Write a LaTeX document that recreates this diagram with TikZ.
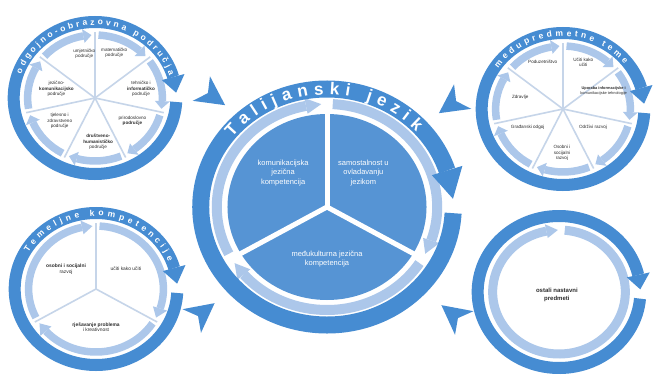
\documentclass[tikz,border=0pt]{standalone}
\usepackage{fontspec}
\setmainfont{Liberation Sans}
\usetikzlibrary{decorations.text}
\definecolor{ringblue}{RGB}{70,140,210}
\definecolor{pieblue}{RGB}{86,148,212}
\definecolor{lightblue}{RGB}{172,199,234}
\definecolor{spokeblue}{RGB}{198,213,233}
\definecolor{labelgray}{RGB}{45,45,45}
\begin{document}
\begin{tikzpicture}[x=1pt,y=1pt,
  lbl/.style={font=\fontsize{4.6}{5.3}\selectfont, text=labelgray, align=center, inner sep=0pt},
  clbl/.style={font=\fontsize{7.5}{9.5}\selectfont, text=white, align=center, inner sep=0pt},
  ringline/.style={draw=ringblue, line width=12pt},
  lring/.style={draw=lightblue, line width=7.5pt},
  spk/.style={draw=spokeblue, line width=1.6pt},
  ringtext/.style={decorate, decoration={text along path, text color=white, text align={fit to path}, text={|\fontsize{8.5}{8.5}\selectfont\bfseries|#1}}},
  chevron/.pic={\fill[ringblue] (16,0) -- (-13,15) -- (-5,0) -- (-13,-15) -- cycle;}]
\fill[white] (0,0) rectangle (653,376);
\useasboundingbox (0,0) rectangle (653,376);

% ---------- top-left: odgojno-obrazovna podrucja ----------
\begin{scope}[shift={(95,278)}, xscale=1.07]
  \coordinate (tl) at (0,0);
  \foreach \k in {0,...,6} \draw[spk] (0,0) -- ({90-\k*360/7}:66);
  \foreach \k in {0,...,6}{
    \pgfmathsetmacro\s{90-\k*360/7-3}
    \pgfmathsetmacro\e{90-(\k+1)*360/7+10}
    \pgfmathsetmacro\t{90-(\k+1)*360/7+3}
    \draw[lring] (\s:63) arc[start angle=\s, end angle=\e, radius=63];
    \fill[lightblue] (\e:70) -- (\e:56) -- (\t:63) -- cycle;
  }
  \draw[ringline] (-3:76) arc[start angle=-3, end angle=-344, radius=76];
  \fill[ringblue] (16:87) -- (16:65) -- (4:76) -- cycle;
  \path[ringtext={odgojno-obrazovna područja}] (161:73) arc[start angle=161, end angle=18, radius=73];
  \node[lbl] (tl1) at (-10,44) {umjetničko\\područje};
  \node[lbl] (tl2) at (18,45) {matematičko\\područje};
  \node[lbl] (tl3) at (43,9) {tehničko i\\\textbf{informatičko}\\područje};
  \node[lbl] (tl4) at (35,-23) {prirodoslovno\\\textbf{područje}};
  \node[lbl] (tl5) at (3,-44) {\textbf{društveno-}\\\textbf{humanističko}\\područje};
  \node[lbl] (tl6) at (-33,-23) {tjelesno i\\zdravstveno\\područje};
  \node[lbl] (tl7) at (-36,9) {jezično-\\\textbf{komunikacijsko}\\područje};
\end{scope}

% ---------- top-right: medupredmetne teme ----------
\begin{scope}[shift={(563,267)}, xscale=1.07]
  \coordinate (tr) at (0,0);
  \foreach \k in {0,...,6} \draw[spk] (0,0) -- ({90-\k*360/7}:66);
  \foreach \k in {0,...,6}{
    \pgfmathsetmacro\s{90-\k*360/7-3}
    \pgfmathsetmacro\e{90-(\k+1)*360/7+10}
    \pgfmathsetmacro\t{90-(\k+1)*360/7+3}
    \draw[lring] (\s:63) arc[start angle=\s, end angle=\e, radius=63];
    \fill[lightblue] (\e:70) -- (\e:56) -- (\t:63) -- cycle;
  }
  \draw[ringline] (-3:76) arc[start angle=-3, end angle=-344, radius=76];
  \fill[ringblue] (16:87) -- (16:65) -- (4:76) -- cycle;
  \path[ringtext={međupredmetne teme}] (146:73) arc[start angle=146, end angle=38, radius=73];
  \node[lbl] (tr1) at (-19,47) {Poduzetništvo};
  \node[lbl] (tr2) at (19,47) {Učiti kako\\učiti};
  \node[lbl, font=\fontsize{3.9}{4.6}\selectfont] (tr3) at (38,18) {\textbf{Uporaba informacijske i}\\komunikacijske tehnologije};
  \node[lbl] (tr4) at (28,-18) {Održivi razvoj};
  \node[lbl] (tr5) at (-1,-44) {Osobni i\\socijalni\\razvoj};
  \node[lbl] (tr6) at (-33,-18) {Građanski odgoj};
  \node[lbl] (tr7) at (-40,12) {Zdravlje};
\end{scope}

% ---------- bottom-left: temeljne kompetencije ----------
\begin{scope}[shift={(96,87)}, xscale=1.07]
  \coordinate (bl) at (0,0);
  \foreach \a in {90,-30,210} \draw[spk] (0,0) -- (\a:66);
  \foreach \s/\e/\t in {207/102/93, 87/-18/-27, -33/-138/-147}{
    \draw[lring] (\s:63) arc[start angle=\s, end angle=\e, radius=63];
    \fill[lightblue] (\e:70) -- (\e:56) -- (\t:63) -- cycle;
  }
  \draw[ringline] (-3:76) arc[start angle=-3, end angle=-344, radius=76];
  \fill[ringblue] (16:87) -- (16:65) -- (4:76) -- cycle;
  \path[ringtext={Temeljne kompetencije}] (150:73) arc[start angle=150, end angle=22, radius=73];
  \node[lbl, font=\fontsize{4.9}{5.6}\selectfont] (bl1) at (-28,20) {\textbf{osobni i socijalni}\\razvoj};
  \node[lbl, font=\fontsize{4.9}{5.6}\selectfont] (bl2) at (28,20) {učiti kako učiti};
  \node[lbl, font=\fontsize{4.9}{5.6}\selectfont] (bl3) at (0,-38) {\textbf{rješavanje problema}\\i kreativnost};
\end{scope}

% ---------- bottom-right: ostali nastavni predmeti ----------
\begin{scope}[shift={(559,84)}, xscale=1.07]
  \coordinate (br) at (0,0);
  \draw[draw=lightblue, line width=9pt] (85:62) arc[start angle=85, end angle=-259, radius=62];
  \fill[lightblue] (101:69) -- (101:55) -- (91:62) -- cycle;
  \draw[ringline] (-5:76) arc[start angle=-5, end angle=-347, radius=76];
  \fill[ringblue] (13:87) -- (13:65) -- (2:76) -- cycle;
  \node[lbl, font=\fontsize{6}{7.5}\selectfont\bfseries] (br1) at (-2,-3) {ostali nastavni\\predmeti};
\end{scope}

% ---------- centre: Talijanski jezik ----------
\begin{scope}[shift={(327,169)}, xscale=1.07]
  \coordinate (ce) at (0,0);
  \fill[pieblue] (0,0) circle[radius=93];
  \foreach \s/\e/\t in {207/101/93, 87/-19/-27, -33/-139/-147}{
    \draw[draw=lightblue, line width=10pt] (\s:103) arc[start angle=\s, end angle=\e, radius=103];
    \fill[lightblue] (\e:111) -- (\e:95) -- (\t:103) -- cycle;
  }
  \foreach \a in {90,-30,210} \draw[white, line width=5pt] (0,0) -- (\a:97);
  \draw[draw=ringblue, line width=17pt] (-3:118) arc[start angle=-3, end angle=-342, radius=118];
  \fill[ringblue] (18:133) -- (18:103) -- (4:118) -- cycle;
  \path[decorate, decoration={text along path, text color=white, text align={fit to path},
    text={|\fontsize{17}{17}\selectfont\bfseries|Talijanski jezik}}]
    (142:112.5) arc[start angle=142, end angle=42, radius=112.5];
  \node[clbl] (c1) at (-41,34) {komunikacijska\\jezična\\kompetencija};
  \node[clbl] (c2) at (34,34) {samostalnost u\\ovladavanju\\jezikom};
  \node[clbl] (c3) at (0,-52) {međukulturna jezična\\kompetencija};
\end{scope}

% ---------- chevrons between circles ----------
\pic[rotate=-35] (ch1) at (212,280) {chevron};
\pic[rotate=215] (ch2) at (452,272) {chevron};
\pic[rotate=38] (ch3) at (202,63) {chevron};
\pic[rotate=142] (ch4) at (454,61) {chevron};
\end{tikzpicture}
\end{document}
